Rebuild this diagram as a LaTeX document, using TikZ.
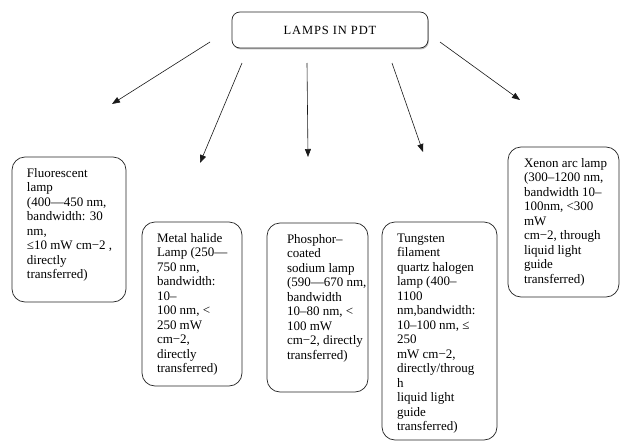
\documentclass[tikz,border=0pt]{standalone}
\usepackage{fontspec}
\setmainfont{Liberation Serif}
\usetikzlibrary{arrows.meta,shadows}
\newcommand{\ltxt}[4]{\parbox[c][#3][t]{#2}{\hspace*{#1}\begin{tabular}[t]{@{}l@{}}#4\end{tabular}}}
\renewcommand{\arraystretch}{1}
\begin{document}
\begin{tikzpicture}[x=1pt,y=-1pt,
  lampbox/.style={draw=black!85, line width=0.7pt, rounded corners=13pt, inner sep=0pt, fill=white,
    text=black, font=\fontsize{13}{14.5}\selectfont},
  arr/.style={-{Triangle[length=8pt,width=6pt]}, line width=0.6pt, draw=black!90}]
\useasboundingbox (0,0) rectangle (625,442);
\fill[white] (0,0) rectangle (625,442);

\node[lampbox, rounded corners=8pt, minimum width=196pt, minimum height=36pt,
  drop shadow={shadow xshift=0.8pt, shadow yshift=-1.4pt, opacity=0.55, fill=gray},
  font=\fontsize{12.5}{13}\selectfont] (top) at (330,30)
  {\addfontfeatures{LetterSpace=7}LAMPS IN PDT};

\node[lampbox, minimum width=114pt, minimum height=145pt] (fl) at (69,229.5)
  {\ltxt{15pt}{114pt}{125pt}{Fluorescent\\lamp\\(400—450 nm,\\bandwidth: 30\\nm,\\≤10 mW cm−2 ,\\directly\\transferred)}};

\node[lampbox, minimum width=100pt, minimum height=164pt] (mh) at (192,304)
  {\ltxt{15pt}{100pt}{144pt}{Metal halide\\Lamp (250—\\750 nm,\\bandwidth:\\10–\\100 nm, <\\250 mW\\cm−2,\\directly\\transferred)}};

\node[lampbox, minimum width=101pt, minimum height=169pt] (ps) at (317.5,307.5)
  {\ltxt{20pt}{101pt}{149pt}{Phosphor–\\coated\\sodium lamp\\(590—670 nm,\\bandwidth\\10–80 nm, <\\100 mW\\cm−2, directly\\transferred)}};

\node[lampbox, minimum width=115pt, minimum height=218pt] (tq) at (439.5,331)
  {\ltxt{15pt}{115pt}{198pt}{Tungsten\\filament\\quartz halogen\\lamp (400–\\1100\\nm,bandwidth:\\10–100 nm, ≤\\250\\mW cm−2,\\directly/throug\\h\\liquid light\\guide\\transferred)}};

\node[lampbox, minimum width=111pt, minimum height=150pt] (xe) at (563.5,222)
  {\ltxt{16pt}{111pt}{130pt}{Xenon arc lamp\\(300–1200 nm,\\bandwidth 10–\\100nm, <300\\mW\\cm−2, through\\liquid light\\guide\\transferred)}};

\coordinate (a1s) at (210,42);  \coordinate (a1e) at (112,104);
\coordinate (a2s) at (242,63);  \coordinate (a2e) at (200,163);
\coordinate (a3s) at (307,63);  \coordinate (a3e) at (308,157);
\coordinate (a4s) at (392,63);  \coordinate (a4e) at (423,152);
\coordinate (a5s) at (440,42);  \coordinate (a5e) at (520,100);

\draw[arr] (a1s) -- (a1e);
\draw[arr] (a2s) -- (a2e);
\draw[arr] (a3s) -- (a3e);
\draw[arr] (a4s) -- (a4e);
\draw[arr] (a5s) -- (a5e);
\end{tikzpicture}
\end{document}
